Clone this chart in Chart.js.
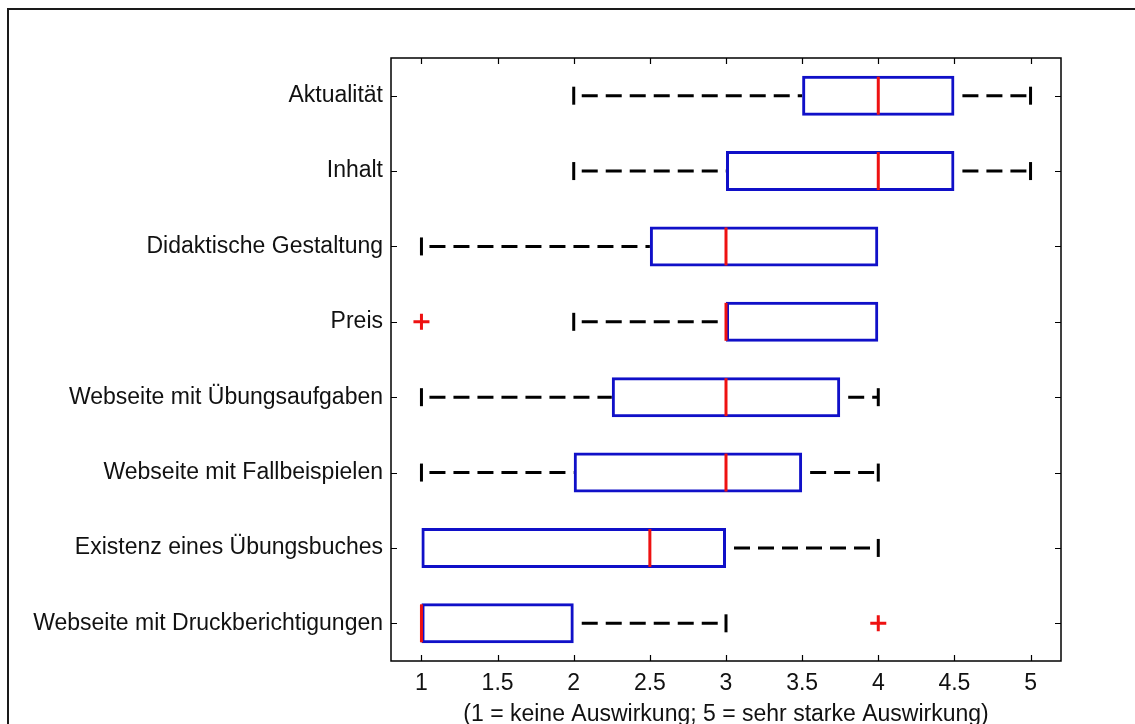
<!DOCTYPE html>
<html><head><meta charset="utf-8">
<script src="https://cdn.jsdelivr.net/npm/chart.js@4.4.1/dist/chart.umd.min.js"></script>
<style>html,body{margin:0;padding:0;background:#fff;overflow:hidden}#wrap{position:relative;width:1135px;height:724px}</style>
</head><body><div id="wrap"><canvas id="c" width="1135" height="724"></canvas></div>
<script>
const categories = ["Aktualität","Inhalt","Didaktische Gestaltung","Preis","Webseite mit Übungsaufgaben","Webseite mit Fallbeispielen","Existenz eines Übungsbuches","Webseite mit Druckberichtigungen"];
const whiskerLow  = [2, 2, 1, 2, 1, 1, 1, 1];
const q1          = [3.5, 3, 2.5, 3, 2.25, 2, 1, 1];
const median      = [4, 4, 3, 3, 3, 3, 2.5, 1];
const q3          = [4.5, 4.5, 4, 4, 3.75, 3.5, 3, 2];
const whiskerHigh = [5, 5, 4, 4, 4, 4, 4, 3];
const outliers    = [[], [], [], [1], [], [], [], [4]];
const xTicks = [1, 1.5, 2, 2.5, 3, 3.5, 4, 4.5, 5];
const xTitle = "(1 = keine Auswirkung; 5 = sehr starke Auswirkung)";

const FONT = "'Liberation Sans', Arial, Helvetica, sans-serif";
const FS = 23;
const BLUE = '#1010c8', RED = '#ee1111', BLACK = '#000';

const datasets = [];
// whiskers
categories.forEach((c, i) => {
  if (whiskerLow[i] < q1[i]) datasets.push({type:'line', data:[{x:whiskerLow[i], y:c},{x:q1[i], y:c}],
    borderColor:BLACK, borderWidth:3, borderDash:[16,8], borderDashOffset:16, pointRadius:0, order:3, clip:false});
  if (whiskerHigh[i] > q3[i]) datasets.push({type:'line', data:[{x:q3[i], y:c},{x:whiskerHigh[i], y:c}],
    borderColor:BLACK, borderWidth:3, borderDash:[16,8], borderDashOffset:16, pointRadius:0, order:3, clip:false});
});
// whisker caps
const caps = [];
categories.forEach((c, i) => {
  if (whiskerLow[i] < q1[i]) caps.push({x:whiskerLow[i], y:c});
  if (whiskerHigh[i] > q3[i]) caps.push({x:whiskerHigh[i], y:c});
});
datasets.push({type:'line', data:caps, showLine:false, pointStyle:'line', pointRotation:90, pointRadius:9,
  pointBorderWidth:3, pointBorderColor:BLACK, borderColor:BLACK, order:3, clip:false});
// boxes
datasets.push({type:'bar', data:categories.map((c,i)=>[q1[i], q3[i]]), backgroundColor:'rgba(0,0,0,0)',
  borderColor:BLUE, borderWidth:3, borderSkipped:false, inflateAmount:0, barPercentage:0.53, categoryPercentage:1, order:2});
// medians
datasets.push({type:'line', data:categories.map((c,i)=>({x:median[i], y:c})), showLine:false, pointStyle:'line',
  pointRotation:90, pointRadius:19, pointBorderWidth:3, pointBorderColor:RED, borderColor:RED, order:0, clip:false});
// outliers
const outPts = [];
categories.forEach((c,i)=>outliers[i].forEach(v=>outPts.push({x:v, y:c})));
datasets.push({type:'line', data:outPts, showLine:false, pointStyle:'cross', pointRadius:8,
  pointBorderWidth:3, pointBorderColor:RED, borderColor:RED, order:0, clip:false});

const framePlugin = {
  id:'frame',
  beforeDraw(chart){
    const ctx = chart.ctx;
    ctx.save();
    ctx.fillStyle = '#fff'; ctx.fillRect(0,0,chart.width,chart.height);
    ctx.fillStyle = '#1a1a1a';
    ctx.fillRect(7, 8, 2, chart.height - 8);
    ctx.fillRect(7, 8, chart.width - 7, 2);
    ctx.restore();
  },
  afterDraw(chart){
    const ctx = chart.ctx, a = chart.chartArea;
    const xs = chart.scales.x, ys = chart.scales.y;
    ctx.save();
    ctx.strokeStyle = '#000'; ctx.lineWidth = 1.5;
    ctx.strokeRect(a.left, a.top, a.right - a.left, a.bottom - a.top);
    ctx.lineWidth = 1.2;
    ctx.beginPath();
    const T = 6;
    xTicks.forEach(v => {
      const px = Math.round(xs.getPixelForValue(v)) + 0.5;
      ctx.moveTo(px, a.bottom); ctx.lineTo(px, a.bottom - T);
      ctx.moveTo(px, a.top); ctx.lineTo(px, a.top + T);
    });
    categories.forEach((c, i) => {
      const py = Math.round(ys.getPixelForValue(i)) + 0.5;
      ctx.moveTo(a.left, py); ctx.lineTo(a.left + T, py);
      ctx.moveTo(a.right, py); ctx.lineTo(a.right - T, py);
    });
    ctx.stroke();
    ctx.restore();
  }
};

new Chart(document.getElementById('c'), {
  type:'bar',
  data:{ labels:categories, datasets },
  options:{
    indexAxis:'y',
    responsive:false,
    animation:false,
    devicePixelRatio:1,
    layout:{ padding:{ left:0, top:58, right:74, bottom:0 } },
    plugins:{ legend:{display:false}, tooltip:{enabled:false} },
    scales:{
      y:{
        type:'category', offset:true,
        grid:{display:false, drawTicks:false}, border:{display:false},
        ticks:{ font:{family:FONT, size:FS}, color:'#111', padding:8 },
        afterFit(s){ s.width = 391; }
      },
      x:{
        type:'linear', min:0.8, max:5.2,
        grid:{display:false, drawTicks:false}, border:{display:false},
        afterBuildTicks(s){ s.ticks = xTicks.map(v=>({value:v})); },
        ticks:{ font:{family:FONT, size:FS}, color:'#111', padding:9, autoSkip:false, maxRotation:0,
          callback:(v)=>String(v) },
        title:{ display:true, text:xTitle, font:{family:FONT, size:FS}, color:'#111', padding:{top:0,bottom:-4} },
        afterFit(s){ s.height = 63; }
      }
    }
  },
  plugins:[framePlugin]
});
</script></body></html>
